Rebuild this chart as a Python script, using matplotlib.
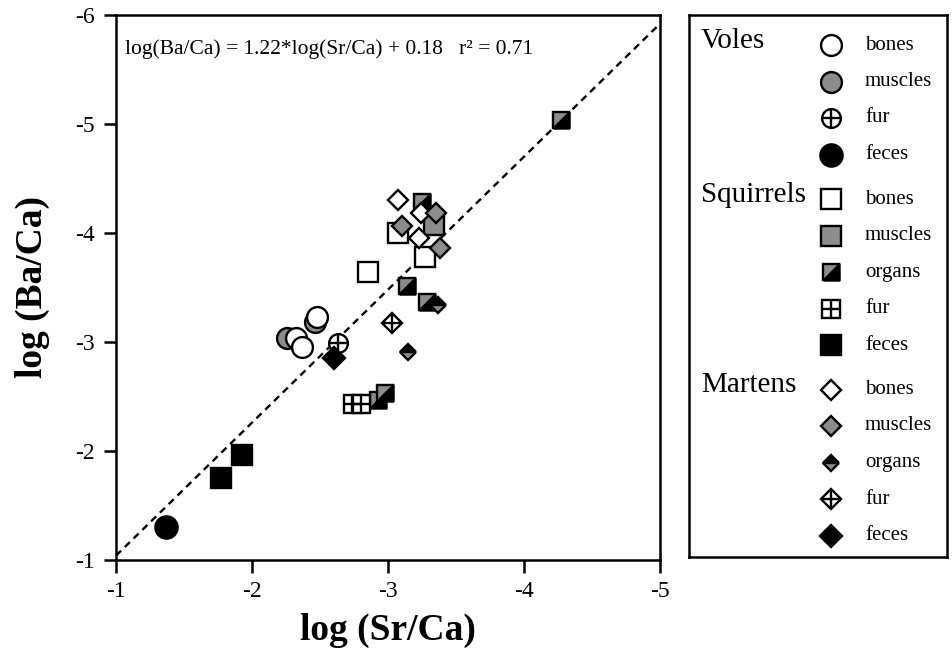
import matplotlib
matplotlib.use('Agg')
import matplotlib.pyplot as plt
import numpy as np

plt.rcParams['font.family'] = ['Liberation Serif', 'DejaVu Serif']
plt.rcParams['axes.unicode_minus'] = False

# values: log(Sr/Ca) on x, log(Ba/Ca) on y
vole_bones_x = [-2.32, -2.37, -2.48]
vole_bones_y = [-3.04, -2.95, -3.23]
vole_muscles_x = [-2.26, -2.46]
vole_muscles_y = [-3.04, -3.18]
vole_fur_x = [-2.63]
vole_fur_y = [-2.99]
vole_feces_x = [-1.37]
vole_feces_y = [-1.30]

squirrel_bones_x = [-2.85, -3.07, -3.27]
squirrel_bones_y = [-3.64, -4.00, -3.78]
squirrel_muscles_x = [-3.34]
squirrel_muscles_y = [-4.07]
squirrel_organs_x = [-3.25, -3.14, -3.29, -4.27, -2.93, -2.98]
squirrel_organs_y = [-4.28, -3.51, -3.37, -5.04, -2.47, -2.53]
squirrel_fur_x = [-2.74, -2.80]
squirrel_fur_y = [-2.43, -2.43]
squirrel_feces_x = [-1.93, -1.77]
squirrel_feces_y = [-1.96, -1.75]

marten_bones_x = [-3.07, -3.24, -3.23]
marten_bones_y = [-4.30, -4.18, -3.95]
marten_muscles_x = [-3.35, -3.10, -3.38]
marten_muscles_y = [-4.18, -4.06, -3.86]
marten_organs_x = [-3.37, -3.15]
marten_organs_y = [-3.34, -2.91]
marten_fur_x = [-3.03]
marten_fur_y = [-3.17]
marten_feces_x = [-2.60]
marten_feces_y = [-2.85]

# regression line
slope = 1.22
intercept = 0.18
r2 = 0.71

x_ticks = [-1, -2, -3, -4, -5]
y_ticks = [-1, -2, -3, -4, -5, -6]

GREY = '#8c8c8c'
MEW = 1.7
# lower-right half of a square, for the "organs" squares
HALF_TRI = [(-1, -1), (1, -1), (1, 1), (-1, -1)]

# marker styles: (marker, size, face, extra)
styles = {
    'vole_bones': ('o', 15, 'white', None),
    'vole_muscles': ('o', 15, GREY, None),
    'vole_fur': ('o', 13.5, 'white', 'plus'),
    'vole_feces': ('o', 16, 'black', None),
    'squirrel_bones': ('s', 14, 'white', None),
    'squirrel_muscles': ('s', 14, GREY, None),
    'squirrel_organs': ('s', 11.5, GREY, 'half'),
    'squirrel_fur': ('s', 12.5, 'white', 'plus'),
    'squirrel_feces': ('s', 15, 'black', None),
    'marten_bones': ('D', 10.5, 'white', None),
    'marten_muscles': ('D', 10.5, GREY, None),
    'marten_organs': ('D', 8.5, 'black', 'top'),
    'marten_fur': ('D', 10, 'white', 'plus'),
    'marten_feces': ('D', 11, 'black', None),
}


def mark(ax, x, y, style):
    marker, ms, face, extra = style
    if extra == 'top':
        ax.plot(x, y, ls='none', marker=marker, ms=ms, mfc=face, mfcalt=GREY,
                fillstyle='top', mec='black', mew=MEW)
        return
    ax.plot(x, y, ls='none', marker=marker, ms=ms, mfc=face, mec='black', mew=MEW)
    if extra == 'plus':
        size = ms * 1.414 if marker == 'D' else ms
        ax.plot(x, y, ls='none', marker='+', ms=size, mec='black', mew=MEW)
    elif extra == 'half':
        ax.plot(x, y, ls='none', marker=HALF_TRI, ms=ms, mfc='black', mec='black', mew=MEW)


fig = plt.figure(figsize=(9.52, 6.56), dpi=100)
ax = fig.add_axes([116 / 952, 96 / 656, 544 / 952, 545 / 656])

xs = np.array([-1, -5])
ax.plot(xs, slope * xs + intercept, color='black', ls=(0, (3, 2.2)), lw=1.7, zorder=1)

series = [
    ('squirrel_bones', squirrel_bones_x, squirrel_bones_y),
    ('squirrel_muscles', squirrel_muscles_x, squirrel_muscles_y),
    ('squirrel_organs', squirrel_organs_x, squirrel_organs_y),
    ('squirrel_fur', squirrel_fur_x, squirrel_fur_y),
    ('squirrel_feces', squirrel_feces_x, squirrel_feces_y),
    ('vole_muscles', vole_muscles_x, vole_muscles_y),
    ('vole_bones', vole_bones_x, vole_bones_y),
    ('vole_fur', vole_fur_x, vole_fur_y),
    ('vole_feces', vole_feces_x, vole_feces_y),
    ('marten_organs', marten_organs_x, marten_organs_y),
    ('marten_feces', marten_feces_x, marten_feces_y),
    ('marten_fur', marten_fur_x, marten_fur_y),
    ('marten_bones', marten_bones_x, marten_bones_y),
    ('marten_muscles', marten_muscles_x, marten_muscles_y),
]
for name, x, y in series:
    mark(ax, x, y, styles[name])

ax.set_xlim(-1, -5)
ax.set_ylim(-1, -6)
ax.set_xticks(x_ticks)
ax.set_xticklabels([str(t) for t in x_ticks])
ax.set_yticks(y_ticks)
ax.set_yticklabels([str(t) for t in y_ticks])
ax.tick_params(direction='out', length=9, width=1.8, labelsize=17, pad=6)
for sp in ax.spines.values():
    sp.set_linewidth(1.8)
ax.set_xlabel('log (Sr/Ca)', fontsize=27, fontweight='bold', labelpad=8)
ax.set_ylabel('log (Ba/Ca)', fontsize=27, fontweight='bold', labelpad=18)

ax.text(0.017, 0.937, 'log(Ba/Ca) = %.2f*log(Sr/Ca) + %.2f   r² = %.2f' % (slope, intercept, r2),
        transform=ax.transAxes, fontsize=15.5, va='center', ha='left')

# hand-made legend box
lg = fig.add_axes([689 / 952, 99 / 656, 258 / 952, 542 / 656])
lg.set_xlim(0, 258)
lg.set_ylim(542, 0)
lg.set_xticks([])
lg.set_yticks([])
for sp in lg.spines.values():
    sp.set_linewidth(1.8)

groups = [
    ('Voles', ['vole_bones', 'vole_muscles', 'vole_fur', 'vole_feces'], 'bones muscles fur feces'),
    ('Squirrels', ['squirrel_bones', 'squirrel_muscles', 'squirrel_organs', 'squirrel_fur', 'squirrel_feces'],
     'bones muscles organs fur feces'),
    ('Martens', ['marten_bones', 'marten_muscles', 'marten_organs', 'marten_fur', 'marten_feces'],
     'bones muscles organs fur feces'),
]
row_y = 30
for title, keys, labels in groups:
    lg.text(12, row_y - 4, title, fontsize=21, va='center', ha='left')
    for key, label in zip(keys, labels.split()):
        mark(lg, [142], [row_y], styles[key])
        lg.text(176, row_y, label, fontsize=15, va='center', ha='left')
        row_y += 36.5
    row_y += 8

fig.savefig('out.png', dpi=100)
